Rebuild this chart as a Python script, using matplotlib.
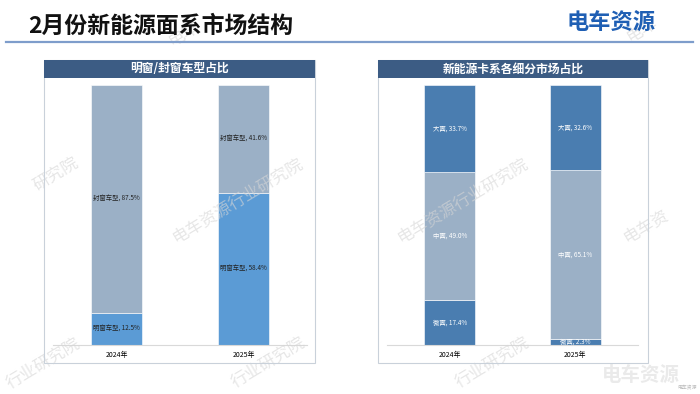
import matplotlib
matplotlib.use("Agg")
import matplotlib.pyplot as plt
from matplotlib.patches import Rectangle

plt.rcParams["font.family"] = ["Noto Sans CJK SC", "DejaVu Sans"]

W, H = 700, 394

years = ["2024年", "2025年"]

# left chart: window type share (%)
open_window = [12.5, 58.4]
closed_window = [87.5, 41.6]

# right chart: NEV truck segment share (%)
micro = [17.4, 2.3]
mid = [49.0, 65.1]
large = [33.7, 32.6]

BLUE = "#5B9BD5"
GREYBLUE = "#9BB0C6"
STEEL = "#4A7DB0"
NAVY = "#3C5C84"


def box(x, y, w, h):
    # pixel box (top-left origin) -> figure fraction
    return [x / W, 1 - (y + h) / H, w / W, h / H]


fig = plt.figure(figsize=(W / 100, H / 100), dpi=100)

# watermarks (partial ones only show the part inside the page)
marks = [
    ("研究院", 56, 174), ("电车资源行业研究院", 238, 200),
    ("电车资源行业研究院", 463, 200), ("电车资", 646, 226),
    ("电车", 184, 34), ("电车", 642, 30),
    ("行业研究院", 43, 364), ("行业研究院", 268, 363), ("行业研究院", 492, 363),
]
for txt, mx, my in marks:
    fig.text(mx / W, 1 - my / H, txt, rotation=31,
             ha="center", va="center", fontsize=12, color="#D6D6D6",
             alpha=0.6, zorder=0)

# page title + rule + logo
fig.text(28 / W, 1 - 26 / H, "2月份新能源面系市场结构", fontsize=16.5,
         fontweight="bold", color="#111111", ha="left", va="center")
fig.add_artist(plt.Line2D([6 / W, 693 / W], [1 - 42 / H, 1 - 42 / H],
                          color="#7E9DCB", lw=1.6))
fig.text(611 / W, 1 - 22 / H, "电车资源", fontsize=16, fontweight="bold",
         color="#1F5FB4", ha="center", va="center")
fig.text(641 / W, 1 - 375 / H, "电车资源", fontsize=14, fontweight="bold",
         color="#EAEAEA", ha="center", va="center", zorder=0)
fig.text(687 / W, 1 - 388 / H, "电车资源", fontsize=3.5,
         color="#BBBBBB", ha="center", va="center")


def panel(x0, x1, title):
    fig.add_artist(Rectangle((x0 / W, 1 - 363 / H), (x1 - x0) / W, 303 / H,
                             transform=fig.transFigure, facecolor="none",
                             edgecolor="#C9D1DA", lw=0.8))
    fig.add_artist(Rectangle((x0 / W, 1 - 78 / H), (x1 - x0) / W, 18 / H,
                             transform=fig.transFigure, facecolor=NAVY,
                             edgecolor="none"))
    fig.text((x0 + x1) / 2 / W, 1 - 69 / H, title, fontsize=8.5,
             fontweight="bold", color="white", ha="center", va="center")


def setup(ax):
    ax.set_xlim(-0.5, 1.5)
    ax.set_ylim(0, 100)
    for s in ["top", "right", "left"]:
        ax.spines[s].set_visible(False)
    ax.spines["bottom"].set_color("#D9D9D9")
    ax.set_yticks([])
    ax.set_xticks([0, 1])
    ax.set_xticklabels(years, fontsize=5)
    ax.tick_params(axis="x", length=0, pad=4)
    ax.patch.set_alpha(0)


def stack(ax, series, width):
    x = [0, 1]
    bottom = [0, 0]
    for vals, name, color, tcolor in series:
        ax.bar(x, vals, width, bottom=bottom, color=color,
               edgecolor="white", linewidth=0.4)
        for i in range(2):
            ax.text(x[i], bottom[i] + vals[i] / 2, f"{name}, {vals[i]:.1f}%",
                    ha="center", va="center", fontsize=4.6, color=tcolor)
        bottom = [b + v for b, v in zip(bottom, vals)]


panel(44, 315, "明窗/封窗车型占比")
panel(378, 648, "新能源卡系各细分市场占比")

ax1 = fig.add_axes(box(53, 85, 254, 260))
setup(ax1)
stack(ax1, [(open_window, "明窗车型", BLUE, "#222222"),
            (closed_window, "封窗车型", GREYBLUE, "#222222")], 0.40)

ax2 = fig.add_axes(box(387, 85, 251, 260))
setup(ax2)
stack(ax2, [(micro, "微面", STEEL, "white"),
            (mid, "中面", GREYBLUE, "white"),
            (large, "大面", STEEL, "white")], 0.406)

fig.savefig("out.png", dpi=100)
